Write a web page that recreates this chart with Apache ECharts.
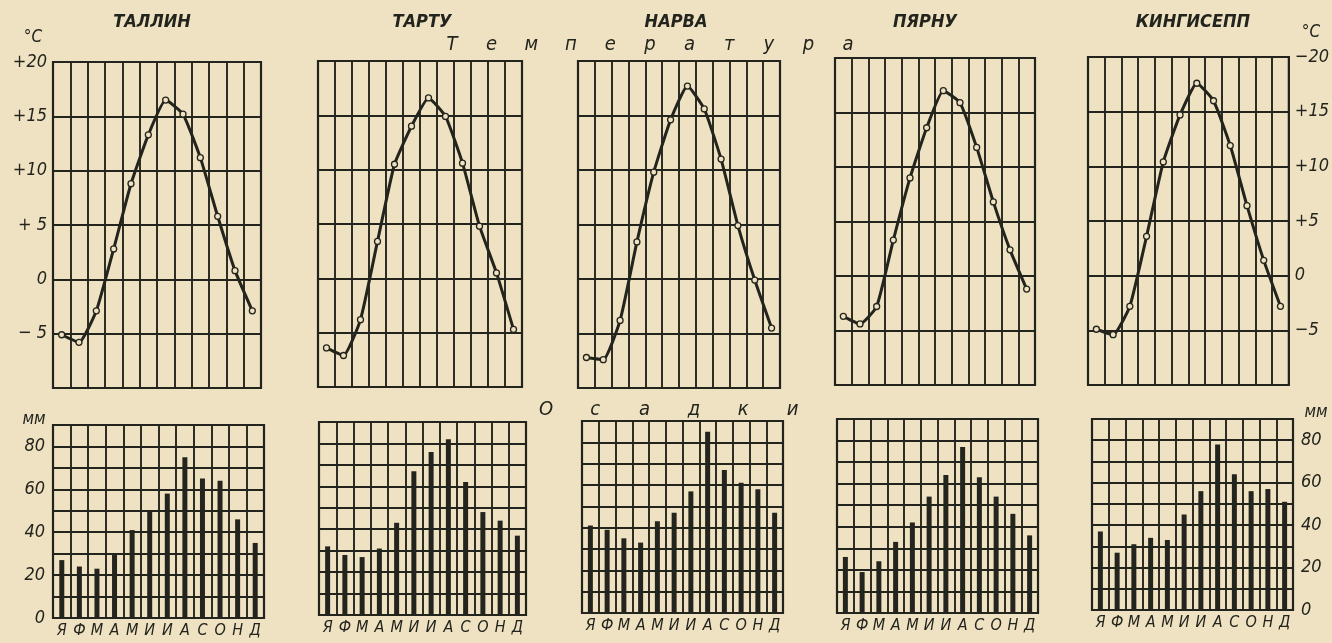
<!DOCTYPE html>
<html lang="ru">
<head>
    <meta charset="UTF-8">
    <title>Температура и осадки</title>
    <script src="https://cdn.jsdelivr.net/npm/echarts@6/dist/echarts.min.js"></script>
    <style>
        html, body { margin: 0; padding: 0; background: #efe2c2; }
        #chart { width: 1332px; height: 643px; }
    </style>
</head>
<body>
<div id="chart"></div>

<script type="text/javascript">
    // месяцы
    var months = ['Я', 'Ф', 'М', 'А', 'М', 'И', 'И', 'А', 'С', 'О', 'Н', 'Д'];
    var stations = ['ТАЛЛИН', 'ТАРТУ', 'НАРВА', 'ПЯРНУ', 'КИНГИСЕПП'];

    // температура, °C
    var tallinnTemp = [-5.1, -5.8, -2.9, 2.8, 8.8, 13.3, 16.5, 15.2, 11.2, 5.8, 0.8, -2.9];
    var tartuTemp = [-6.4, -7.1, -3.8, 3.4, 10.5, 14.0, 16.6, 14.9, 10.6, 4.8, 0.5, -4.7];
    var narvaTemp = [-7.2, -7.4, -3.8, 3.4, 9.8, 14.6, 17.7, 15.6, 11.0, 4.9, -0.1, -4.5];
    var parnuTemp = [-3.7, -4.4, -2.8, 3.3, 9.0, 13.6, 17.0, 15.9, 11.8, 6.8, 2.4, -1.2];
    var kingiseppTemp = [-4.9, -5.4, -2.8, 3.6, 10.4, 14.7, 17.6, 16.0, 11.9, 6.4, 1.4, -2.8];

    // осадки, мм
    var tallinnPrec = [27, 24, 23, 30, 41, 50, 58, 75, 65, 64, 46, 35];
    var tartuPrec = [32, 28, 27, 31, 43, 67, 76, 82, 62, 48, 44, 37];
    var narvaPrec = [41, 39, 35, 33, 43, 47, 57, 85, 67, 61, 58, 47];
    var parnuPrec = [26, 19, 24, 33, 42, 54, 64, 77, 63, 54, 46, 36];
    var kingiseppPrec = [37, 27, 31, 34, 33, 45, 56, 78, 64, 56, 57, 51];

    // шкалы
    var tempMin = -10, tempMax = 20, tempStep = 5;
    var precMin = 0, precMax = 90, precStep = 10;

    var tempWord = ['Т', 'е', 'м', 'п', 'е', 'р', 'а', 'т', 'у', 'р', 'а'];
    var precWord = ['О', 'с', 'а', 'д', 'к', 'и'];

    var temps = [tallinnTemp, tartuTemp, narvaTemp, parnuTemp, kingiseppTemp];
    var precs = [tallinnPrec, tartuPrec, narvaPrec, parnuPrec, kingiseppPrec];

    // расположение панелей (left, top, width, height)
    var tempBox = [[53, 62, 208, 326], [318, 61, 204, 326], [578, 61, 202, 327], [835, 58, 200, 327], [1088, 57, 205, 328]];
    var precBox = [[53, 425, 211, 193], [319, 422, 207, 193], [582, 421, 201, 192], [837, 419, 201, 194], [1092, 419, 201, 191]];
    var titleX = [152, 422, 676, 925, 1193];

    var ink = '#23241d';
    var paper = '#efe2c2';
    var font = '"Liberation Sans Narrow", "DejaVu Sans Condensed", "Liberation Sans", sans-serif';

    function tempLabel(v, right) {
        if (v === tempMin) return '';
        if (v === 20 && right) return '−20';
        if (v > 0) return right ? '+' + v : '+' + (v < 10 ? ' ' : '') + v;
        if (v < 0) return (right ? '−' : '− ') + Math.abs(v);
        return '0';
    }

    var grids = [], xAxes = [], yAxes = [], series = [];
    var lineStyle = {color: ink, width: 1.9};

    for (var i = 0; i < 5; i++) {
        var boxes = [tempBox[i], precBox[i]];
        for (var k = 0; k < 2; k++) {
            var b = boxes[k];
            var idx = grids.length;
            grids.push({
                left: b[0], top: b[1], width: b[2], height: b[3],
                show: true, borderColor: ink, borderWidth: 2.2, backgroundColor: 'transparent'
            });
            xAxes.push({
                gridIndex: idx, type: 'category', data: months, boundaryGap: true,
                axisLine: {show: false}, axisTick: {show: false},
                splitLine: {show: true, interval: 0, lineStyle: lineStyle},
                axisLabel: {
                    show: k === 1, interval: 0, margin: 5, color: ink,
                    fontSize: 16, fontStyle: 'italic', fontFamily: font
                }
            });
            var labelSide = i === 0 ? 'left' : 'right';
            var showLabels = i === 0 || i === 4;
            if (k === 0) {
                yAxes.push({
                    gridIndex: idx, type: 'value', min: tempMin, max: tempMax, interval: tempStep,
                    position: labelSide,
                    axisLine: {show: false}, axisTick: {show: false},
                    splitLine: {show: true, lineStyle: lineStyle},
                    axisLabel: {
                        show: showLabels, margin: i === 0 ? 6 : 6, color: ink,
                        fontSize: 18, fontStyle: 'italic', fontFamily: font,
                        formatter: (function (right) {
                            return function (v) { return tempLabel(v, right); };
                        })(i === 4)
                    }
                });
                series.push({
                    type: 'line', xAxisIndex: idx, yAxisIndex: idx,
                    data: temps[i], smooth: 0.15,
                    lineStyle: {color: ink, width: 3},
                    symbol: 'circle', symbolSize: 6,
                    itemStyle: {color: paper, borderColor: ink, borderWidth: 1.3},
                    z: 5
                });
            } else {
                yAxes.push({
                    gridIndex: idx, type: 'value', min: precMin, max: precMax, interval: precStep,
                    position: labelSide,
                    axisLine: {show: false}, axisTick: {show: false},
                    splitLine: {show: true, lineStyle: lineStyle},
                    axisLabel: {
                        show: showLabels, margin: 8, color: ink,
                        fontSize: 18, fontStyle: 'italic', fontFamily: font,
                        formatter: function (v) {
                            return (v % 20 === 0) ? String(v) : '';
                        }
                    }
                });
                series.push({
                    type: 'bar', xAxisIndex: idx, yAxisIndex: idx,
                    data: precs[i], barWidth: 5,
                    itemStyle: {color: ink}, z: 5
                });
            }
        }
    }

    // подписи
    var graphics = [];
    stations.forEach(function (name, i) {
        graphics.push({
            type: 'text', x: titleX[i], y: 22,
            style: {text: name, fill: ink, font: 'italic bold 18px ' + font, align: 'center', verticalAlign: 'middle'}
        });
    });
    tempWord.forEach(function (ch, i) {
        graphics.push({
            type: 'text', x: 452 + i * 39.6, y: 45,
            style: {text: ch, fill: ink, font: 'italic 20px ' + font, align: 'center', verticalAlign: 'middle'}
        });
    });
    precWord.forEach(function (ch, i) {
        graphics.push({
            type: 'text', x: 546 + i * 49.3, y: 410,
            style: {text: ch, fill: ink, font: 'italic 20px ' + font, align: 'center', verticalAlign: 'middle'}
        });
    });
    var units = [['°C', 33, 38], ['°C', 1311, 33], ['мм', 34, 420], ['мм', 1316, 413]];
    units.forEach(function (u) {
        graphics.push({
            type: 'text', x: u[1], y: u[2],
            style: {text: u[0], fill: ink, font: 'italic 17px ' + font, align: 'center', verticalAlign: 'middle'}
        });
    });

    var option = {
        backgroundColor: paper,
        animation: false,
        grid: grids,
        xAxis: xAxes,
        yAxis: yAxes,
        series: series,
        graphic: graphics
    };

    var myChart = echarts.init(document.getElementById('chart'));
    myChart.setOption(option);
</script>
</body>
</html>
